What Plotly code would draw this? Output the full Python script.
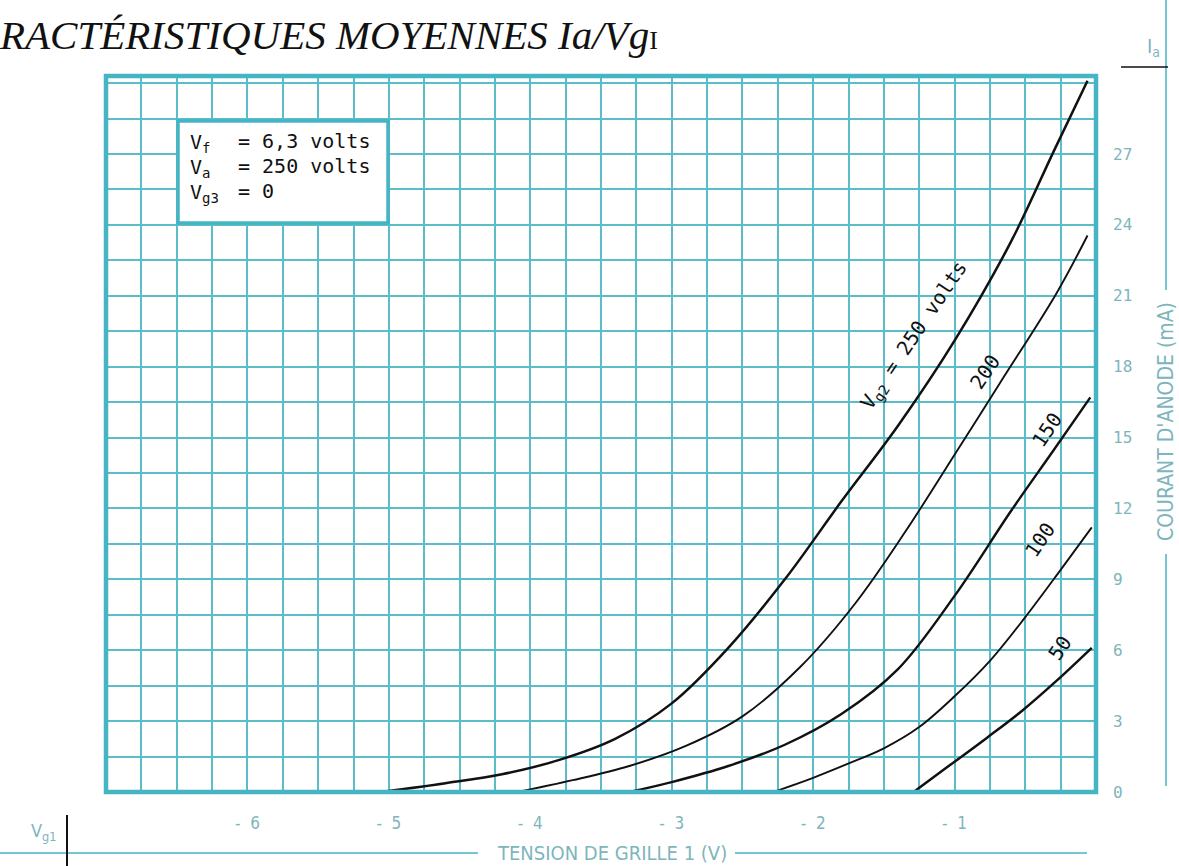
import plotly.graph_objects as go

# Average Ia / Vg1 characteristics, one curve per screen-grid voltage Vg2
vg_250 = [-5.05, -4.6, -4.2, -3.8, -3.4, -3.0, -2.6, -2.2, -1.8, -1.4, -1.0, -0.6, -0.3, -0.06]
ia_250 = [0.0, 0.37, 0.75, 1.35, 2.25, 3.75, 6.1, 9.0, 12.3, 15.5, 19.1, 23.3, 27.1, 30.1]

vg_200 = [-4.09, -3.7, -3.3, -2.9, -2.5, -2.09, -1.7, -1.35, -0.98, -0.68, -0.28, -0.06]
ia_200 = [0.0, 0.5, 1.1, 1.95, 3.2, 5.3, 8.0, 11.0, 14.46, 17.3, 21.1, 23.55]

vg_150 = [-3.30, -3.0, -2.6, -2.2, -1.8, -1.4, -1.0, -0.6, -0.3, -0.04]
ia_150 = [0.0, 0.42, 1.1, 2.0, 3.3, 5.2, 8.3, 11.9, 14.46, 16.7]

vg_100 = [-2.28, -2.0, -1.74, -1.5, -1.25, -1.0, -0.75, -0.5, -0.25, -0.03]
ia_100 = [0.0, 0.6, 1.23, 1.85, 2.75, 4.05, 5.55, 7.4, 9.4, 11.2]

vg_50 = [-1.29, -1.03, -0.77, -0.52, -0.28, -0.03]
ia_50 = [0.0, 1.15, 2.3, 3.45, 4.7, 6.1]

curves = [
    ("250", vg_250, ia_250, 2.5),
    ("200", vg_200, ia_200, 1.9),
    ("150", vg_150, ia_150, 2.4),
    ("100", vg_100, ia_100, 1.9),
    ("50", vg_50, ia_50, 2.5),
]

x_tick_vals = [-6, -5, -4, -3, -2, -1]
x_tick_text = ["-  6", "-  5", "-  4", "-  3", "-  2", "-  1"]
y_tick_vals = [0, 3, 6, 9, 12, 15, 18, 21, 24, 27]
y_tick_text = [str(v) for v in y_tick_vals]

W, H = 1179, 866
L, R, T, B = 106, 1096, 76, 792

TEAL = "#45b4c3"
GRID = "#5bbdc9"
LABEL = "#7db5bc"
INK = "#111111"


def px(x):
    return (x - L) / (R - L)


def py(y):
    return (B - y) / (B - T)


fig = go.Figure()
for name, xs, ys, w in curves:
    fig.add_trace(go.Scatter(
        x=xs, y=ys, mode="lines", name=name,
        line=dict(color=INK, width=w, shape="spline", smoothing=1.0),
        hoverinfo="skip", showlegend=False,
    ))

fig.update_layout(
    width=W, height=H,
    margin=dict(l=L, r=W - R, t=T, b=H - B),
    paper_bgcolor="white", plot_bgcolor="white",
    showlegend=False,
)

fig.update_xaxes(
    range=[-7, 0], showline=False, zeroline=False,
    tickmode="array", tickvals=x_tick_vals, ticktext=x_tick_text,
    ticks="", ticklabelstandoff=19,
    tickfont=dict(family="Liberation Sans Narrow, DejaVu Sans Condensed, Roboto, sans-serif", size=17, color=LABEL),
    showgrid=True, gridcolor=GRID, gridwidth=1.6,
    minor=dict(tickmode="linear", tick0=-7, dtick=0.25, showgrid=True, gridcolor=GRID, gridwidth=1.6, ticks=""),
)
fig.update_yaxes(
    range=[0, 30.3], side="right", showline=False, zeroline=False,
    tickmode="array", tickvals=y_tick_vals, ticktext=y_tick_text,
    ticks="", ticklabelstandoff=16,
    tickfont=dict(family="DejaVu Sans Mono, monospace", size=16, color=LABEL),
    showgrid=True, gridcolor=GRID, gridwidth=1.6,
    minor=dict(tickmode="linear", tick0=0, dtick=1.5, showgrid=True, gridcolor=GRID, gridwidth=1.6, ticks=""),
)

shapes = []
# heavy frame around the grid
shapes.append(dict(type="rect", xref="paper", yref="paper", x0=0, x1=1, y0=0, y1=1,
                   line=dict(color=TEAL, width=4.5), layer="above"))
# operating-conditions box
shapes.append(dict(type="rect", xref="paper", yref="paper",
                   x0=px(178), x1=px(388), y0=py(223), y1=py(121),
                   fillcolor="white", line=dict(color=TEAL, width=3.5), layer="above"))
# current-axis rule on the right
for y0, y1 in [(0, 290), (554, 786)]:
    shapes.append(dict(type="line", xref="paper", yref="paper",
                       x0=px(1166), x1=px(1166), y0=py(y0), y1=py(y1),
                       line=dict(color=TEAL, width=1.5)))
shapes.append(dict(type="line", xref="paper", yref="paper",
                   x0=px(1121), x1=px(1168), y0=py(67), y1=py(67),
                   line=dict(color=INK, width=1.5)))
# grid-voltage rule at the bottom
for x0, x1 in [(0, 478), (735, 1087)]:
    shapes.append(dict(type="line", xref="paper", yref="paper",
                       x0=px(x0), x1=px(x1), y0=py(853), y1=py(853),
                       line=dict(color=TEAL, width=1.5)))
shapes.append(dict(type="line", xref="paper", yref="paper",
                   x0=px(67), x1=px(67), y0=py(815), y1=py(866),
                   line=dict(color=INK, width=2)))
fig.update_layout(shapes=shapes)

ann = []


def note(text, x, y, size, color, family, angle=0, xanchor="center", yanchor="middle"):
    ann.append(dict(text=text, x=px(x), y=py(y), xref="paper", yref="paper",
                    showarrow=False, textangle=angle, xanchor=xanchor, yanchor=yanchor,
                    font=dict(family=family, size=size, color=color)))


SERIF = "Liberation Serif, DejaVu Serif, serif"
MONO = "DejaVu Sans Mono, Liberation Mono, monospace"
SANS = "Liberation Sans Narrow, DejaVu Sans Condensed, Liberation Sans, sans-serif"

note("<i>RACTÉRISTIQUES MOYENNES Ia/Vg</i><span style='font-size:26px'>I</span>",
     -3, 35, 41, INK, SERIF, xanchor="left")

# operating conditions
note("V<sub>f</sub>", 188, 143, 20, INK, MONO, xanchor="left")
note("V<sub>a</sub>", 188, 168, 20, INK, MONO, xanchor="left")
note("V<sub>g3</sub>", 188, 193, 20, INK, MONO, xanchor="left")
note("= 6,3 volts", 236, 141, 20, INK, MONO, xanchor="left")
note("= 250 volts", 236, 166, 20, INK, MONO, xanchor="left")
note("= 0", 236, 191, 20, INK, MONO, xanchor="left")

# curve labels
note("V<sub>g2</sub> = 250 volts", 914, 336, 20, INK, MONO, angle=-56)
note("200", 985, 372, 20, INK, MONO, angle=-56)
note("150", 1047, 430, 20, INK, MONO, angle=-56)
note("100", 1040, 540, 20, INK, MONO, angle=-56)
note("50", 1060, 648, 20, INK, MONO, angle=-56)

# axis captions
note("I<sub>a</sub>", 1153, 47, 20, LABEL, SANS)
note("COURANT D'ANODE (mA)", 1166, 422, 21, LABEL, SANS, angle=-90)
note("TENSION DE GRILLE 1 (V)", 612, 853, 20, LABEL, SANS)
note("V<sub>g1</sub>", 43, 832, 18, LABEL, SANS)

fig.update_layout(annotations=ann)

fig.write_html("out.html")
